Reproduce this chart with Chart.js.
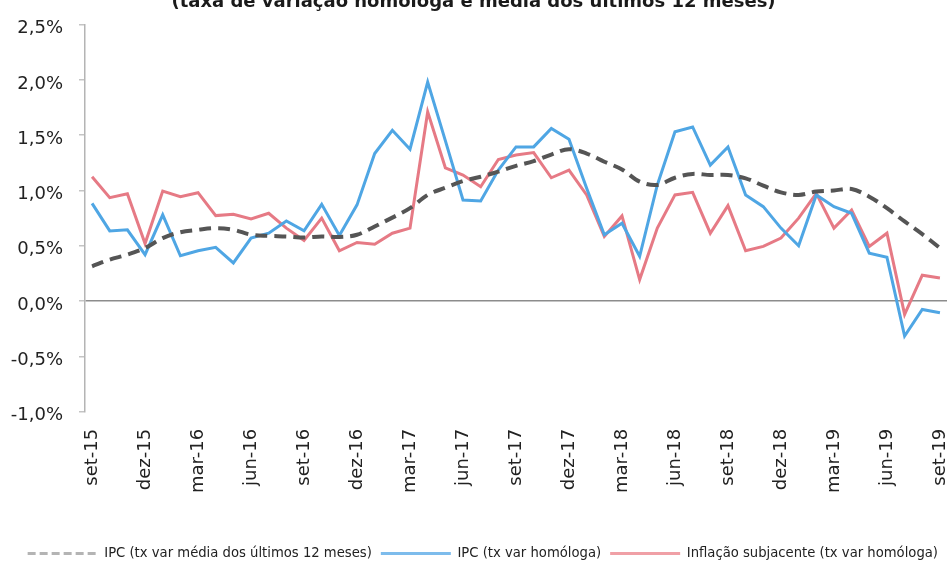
<!DOCTYPE html>
<html><head><meta charset="utf-8">
<script src="https://cdn.jsdelivr.net/npm/chart.js@4"></script>
<style>
html,body{margin:0;padding:0;background:#fff;}
#wrap{position:relative;width:947px;height:562px;overflow:hidden;background:#fff;}
#c{position:absolute;left:0;top:-8px;}
</style></head><body>
<div id="wrap"><canvas id="c" width="947" height="578"></canvas></div>
<script>
const titleText = "(taxa de variação homóloga e média dos últimos 12 meses)";
const months = ["set-15","out-15","nov-15","dez-15","jan-16","fev-16","mar-16","abr-16","mai-16","jun-16","jul-16","ago-16",
  "set-16","out-16","nov-16","dez-16","jan-17","fev-17","mar-17","abr-17","mai-17","jun-17","jul-17","ago-17",
  "set-17","out-17","nov-17","dez-17","jan-18","fev-18","mar-18","abr-18","mai-18","jun-18","jul-18","ago-18",
  "set-18","out-18","nov-18","dez-18","jan-19","fev-19","mar-19","abr-19","mai-19","jun-19","jul-19","ago-19","set-19"];
const tickIdx = [0,3,6,9,12,15,18,21,24,27,30,33,36,39,42,45,48];
const seriesNames = ["IPC (tx var média dos últimos 12 meses)","IPC (tx var homóloga)","Inflação subjacente (tx var homóloga)"];
const media12 = [0.315,0.375,0.42,0.48,0.57,0.623,0.645,0.66,0.645,0.60,0.59,0.585,0.575,0.585,0.58,0.60,0.675,0.755,0.84,0.96,1.025,1.085,1.124,1.17,1.223,1.265,1.325,1.373,1.334,1.26,1.19,1.08,1.05,1.115,1.15,1.14,1.14,1.11,1.043,0.983,0.96,0.99,1.0,1.013,0.944,0.84,0.72,0.605,0.48];
const ipc = [0.884,0.635,0.645,0.42,0.78,0.41,0.455,0.486,0.345,0.57,0.614,0.725,0.635,0.875,0.594,0.87,1.334,1.544,1.373,1.98,1.45,0.914,0.905,1.184,1.394,1.394,1.56,1.463,1.02,0.60,0.704,0.405,1.05,1.53,1.574,1.23,1.394,0.96,0.854,0.66,0.50,0.96,0.854,0.794,0.434,0.396,-0.315,-0.075,-0.105];
const core = [1.124,0.935,0.97,0.52,0.995,0.944,0.98,0.773,0.785,0.743,0.794,0.66,0.548,0.75,0.455,0.53,0.515,0.614,0.66,1.71,1.205,1.14,1.034,1.28,1.32,1.343,1.115,1.184,0.96,0.585,0.77,0.195,0.66,0.96,0.983,0.614,0.863,0.455,0.495,0.57,0.75,0.974,0.66,0.824,0.495,0.614,-0.12,0.234,0.21];

const FONT = "'DejaVu Sans', Verdana, sans-serif";
const toXY = arr => arr.map((v, i) => ({x: i, y: v}));
const legendColors = ['#b4b4b4', '#7dbcec', '#f0a0a6'];

new Chart(document.getElementById('c'), {
  type: 'line',
  data: {
    datasets: [
      {label: seriesNames[0], data: toXY(media12), borderColor: '#555555', borderWidth: 4, borderDash: [12, 7], pointRadius: 0, tension: 0.35, fill: false},
      {label: seriesNames[1], data: toXY(ipc), borderColor: '#4fa6e4', borderWidth: 3, pointRadius: 0, tension: 0, fill: false},
      {label: seriesNames[2], data: toXY(core), borderColor: '#e67a85', borderWidth: 3, pointRadius: 0, tension: 0, fill: false}
    ]
  },
  options: {
    responsive: false,
    animation: false,
    devicePixelRatio: 1,
    layout: {padding: {left: 0, right: 0, top: 0, bottom: 0}},
    plugins: {
      tooltip: {enabled: false},
      title: {
        display: true, text: titleText, color: '#1a1a1a',
        font: {family: FONT, size: 18, weight: 'bold'},
        padding: {top: 0, bottom: 10.9}
      },
      legend: {
        position: 'bottom',
        align: 'end',
        labels: {
          usePointStyle: true, pointStyle: 'line', pointStyleWidth: 70,
          font: {family: FONT, size: 13.2}, color: '#222', padding: 9,
          generateLabels: (chart) => {
            const items = Chart.defaults.plugins.legend.labels.generateLabels(chart);
            items.forEach((it, i) => { it.strokeStyle = legendColors[i]; it.lineWidth = 3; if (i === 0) it.lineDash = [8, 4]; });
            return items;
          }
        }
      }
    },
    scales: {
      x: {
        type: 'linear', min: -0.4, max: 48.4,
        grid: {display: false, drawTicks: false},
        border: {display: false},
        afterBuildTicks: s => { s.ticks = tickIdx.map(v => ({value: v})); },
        afterFit: s => { s.height = 126; s.paddingLeft = 0; s.paddingRight = 0; },
        ticks: {
          autoSkip: false, maxRotation: 90, minRotation: 90, padding: 17,
          color: '#222', font: {family: FONT, size: 18},
          callback: v => months[v]
        }
      },
      y: {
        min: -1, max: 2.5,
        afterFit: s => { s.width = 85; },
        grid: {
          color: c => (c.tick && c.tick.value === 0) ? '#8c8c8c' : 'rgba(0,0,0,0)',
          lineWidth: 1.5, tickColor: '#c4c4c4', tickLength: 6, drawTicks: true
        },
        border: {display: true, color: '#b4b4b4', width: 1.5},
        ticks: {
          stepSize: 0.5, padding: 16, labelOffset: 4, color: '#222', font: {family: FONT, size: 18},
          callback: v => v.toFixed(1).replace('.', ',') + '%'
        }
      }
    }
  }
});
</script>
</body></html>
